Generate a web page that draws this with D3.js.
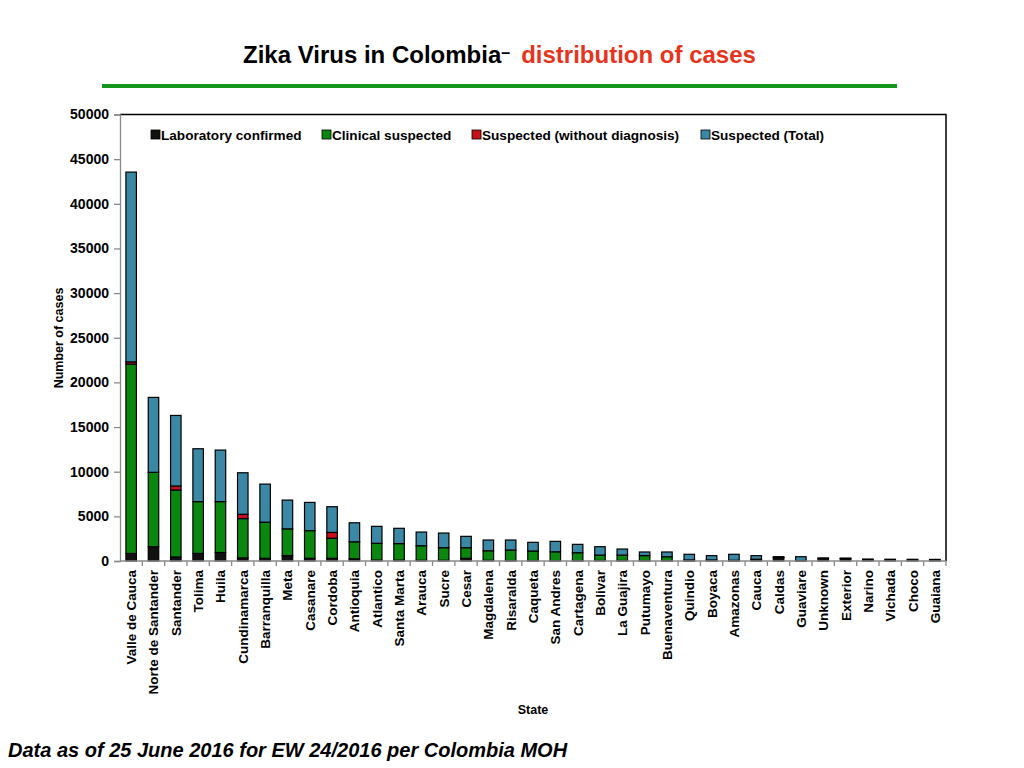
<!DOCTYPE html>
<html>
<head>
<meta charset="utf-8">
<script src="https://cdn.jsdelivr.net/npm/d3@7"></script>
<style>
  body { margin: 0; background: #fff; }
  svg text { font-family: "Liberation Sans", Arial, sans-serif; font-weight: bold; }
</style>
</head>
<body>
<div id="chart"></div>
<script>
// states, sorted by total cases
var states = ["Valle de Cauca", "Norte de Santander", "Santander", "Tolima", "Huila",
    "Cundinamarca", "Barranquilla", "Meta", "Casanare", "Cordoba", "Antioquia",
    "Atlantico", "Santa Marta", "Arauca", "Sucre", "Cesar", "Magdalena", "Risaralda",
    "Caqueta", "San Andres", "Cartagena", "Bolivar", "La Guajira", "Putumayo",
    "Buenaventura", "Quindio", "Boyaca", "Amazonas", "Cauca", "Caldas", "Guaviare",
    "Unknown", "Exterior", "Narino", "Vichada", "Choco", "Guaiana"];

var labConfirmed = [850, 1600, 450, 850, 950, 350, 300, 600, 300, 300, 250,
    100, 100, 80, 80, 300, 80, 50, 50, 30, 30, 60, 60, 30,
    30, 20, 60, 20, 150, 380, 20, 300, 250, 100, 80, 80, 80];

var clinicalSuspected = [21200, 8330, 7500, 5800, 5700, 4400, 4050, 3000, 3100, 2250, 1900,
    1880, 1850, 1630, 1410, 1190, 1070, 1180, 1070, 1000, 900, 600, 600, 580,
    450, 100, 60, 60, 50, 20, 30, 0, 20, 20, 20, 20, 10];

var suspectedNoDiag = [250, 0, 450, 0, 0, 480, 0, 0, 0, 650, 0,
    0, 0, 0, 0, 0, 0, 0, 0, 0, 0, 0, 0, 0,
    0, 0, 0, 0, 0, 0, 0, 0, 0, 0, 0, 0, 0];

var suspectedTotal = [21250, 8390, 7900, 5920, 5770, 4650, 4260, 3220, 3160, 2880, 2130,
    1900, 1710, 1530, 1640, 1270, 1200, 1120, 970, 1170, 935, 940, 680, 400,
    530, 630, 480, 670, 400, 80, 430, 40, 60, 100, 100, 90, 90];

var seriesNames = ["Laboratory confirmed", "Clinical suspected", "Suspected (without diagnosis)", "Suspected (Total)"];
var seriesKeys = ["lab", "clinical", "nodiag", "total"];
var seriesColors = ["#111111", "#0a870f", "#c8101a", "#3b88a5"];
var yTicks = [0, 5000, 10000, 15000, 20000, 25000, 30000, 35000, 40000, 45000, 50000];

var W = 1024, H = 768;
var plot = { left: 120, top: 114.5, right: 946, bottom: 561 };

var rows = states.map(function (s, i) {
    return { state: s, lab: labConfirmed[i], clinical: clinicalSuspected[i],
        nodiag: suspectedNoDiag[i], total: suspectedTotal[i] };
});

var svg = d3.select("#chart").append("svg")
    .attr("width", W)
    .attr("height", H);

// title
var title = svg.append("text")
    .attr("x", 243)
    .attr("y", 63)
    .attr("font-size", 24)
    .attr("fill", "#000");
title.append("tspan").text("Zika Virus in Colombia");
title.append("tspan").attr("dy", -5).attr("font-size", 16).text("\u2013");
title.append("tspan").attr("dy", 5).attr("dx", 11).attr("fill", "#e8331c").text("distribution of cases");

svg.append("line")
    .attr("x1", 102).attr("x2", 897)
    .attr("y1", 86).attr("y2", 86)
    .attr("stroke", "#14961b")
    .attr("stroke-width", 4);

var x = d3.scaleBand()
    .domain(states)
    .range([plot.left, plot.right])
    .paddingInner(0.53)
    .paddingOuter(0.265);

var y = d3.scaleLinear()
    .domain([0, 50000])
    .range([plot.bottom, plot.top]);

var stack = d3.stack().keys(seriesKeys);
var layers = stack(rows);

// frame top and right
svg.append("path")
    .attr("d", "M" + plot.left + "," + plot.top + "H" + plot.right + "V" + plot.bottom)
    .attr("fill", "none")
    .attr("stroke", "#000")
    .attr("stroke-width", 1.5);

svg.selectAll(".layer")
    .data(layers)
    .enter().append("g")
    .attr("class", "layer")
    .attr("fill", function (d, i) { return seriesColors[i]; })
    .selectAll("rect")
    .data(function (d) { return d; })
    .enter().append("rect")
    .filter(function (d) { return d[1] - d[0] > 0; })
    .attr("x", function (d) { return x(d.data.state); })
    .attr("width", x.bandwidth())
    .attr("y", function (d) { return y(d[1]); })
    .attr("height", function (d) { return y(d[0]) - y(d[1]); })
    .attr("stroke", "#000")
    .attr("stroke-width", 1.2);

// y axis
var yAxis = svg.append("g")
    .attr("transform", "translate(" + plot.left + ",0)")
    .call(d3.axisLeft(y).tickValues(yTicks).tickFormat(d3.format("d")).tickSize(6).tickPadding(5));
yAxis.select(".domain").attr("stroke", "#8a8a8a").attr("stroke-width", 1.3);
yAxis.selectAll(".tick line").attr("stroke", "#8a8a8a").attr("stroke-width", 1.3);
yAxis.selectAll(".tick text")
    .attr("font-size", 14)
    .attr("font-family", "Liberation Sans, Arial, sans-serif")
    .attr("font-weight", "bold")
    .attr("fill", "#000");

// x axis: ticks sit between categories
var xAxis = svg.append("g")
    .attr("transform", "translate(0," + plot.bottom + ")");
xAxis.append("line")
    .attr("x1", plot.left).attr("x2", plot.right)
    .attr("stroke", "#8a8a8a").attr("stroke-width", 1.3);
xAxis.selectAll(".xtick")
    .data(states)
    .enter().append("line")
    .attr("class", "xtick")
    .attr("x1", function (d) { return x(d) + x.bandwidth() + x.step() * x.paddingInner() / 2; })
    .attr("x2", function (d) { return x(d) + x.bandwidth() + x.step() * x.paddingInner() / 2; })
    .attr("y1", 0).attr("y2", 5)
    .attr("stroke", "#8a8a8a").attr("stroke-width", 1.3);
xAxis.selectAll(".xlabel")
    .data(states)
    .enter().append("text")
    .attr("class", "xlabel")
    .attr("transform", function (d) {
        return "translate(" + (x(d) + x.bandwidth() / 2 + 5) + ",9) rotate(-90)";
    })
    .attr("text-anchor", "end")
    .attr("font-size", 13.5)
    .attr("fill", "#000")
    .text(function (d) { return d; });

// axis titles
svg.append("text")
    .attr("transform", "translate(63,338) rotate(-90)")
    .attr("text-anchor", "middle")
    .attr("font-size", 12.5)
    .text("Number of cases");

svg.append("text")
    .attr("x", 533)
    .attr("y", 714)
    .attr("text-anchor", "middle")
    .attr("font-size", 12.5)
    .text("State");

// legend
var legendX = [151, 322, 472, 701];
var legend = svg.selectAll(".legend")
    .data(seriesNames)
    .enter().append("g")
    .attr("class", "legend")
    .attr("transform", function (d, i) { return "translate(" + legendX[i] + ",130)"; });
legend.append("rect")
    .attr("width", 9).attr("height", 9)
    .attr("fill", function (d, i) { return seriesColors[i]; })
    .attr("stroke", "#000").attr("stroke-width", 0.8);
legend.append("text")
    .attr("x", 10).attr("y", 9.5)
    .attr("font-size", 13.6)
    .text(function (d) { return d; });

// footnote
svg.append("text")
    .attr("x", 8)
    .attr("y", 757)
    .attr("font-size", 20)
    .attr("font-style", "italic")
    .text("Data as of 25 June 2016 for EW 24/2016 per Colombia MOH");
</script>
</body>
</html>
